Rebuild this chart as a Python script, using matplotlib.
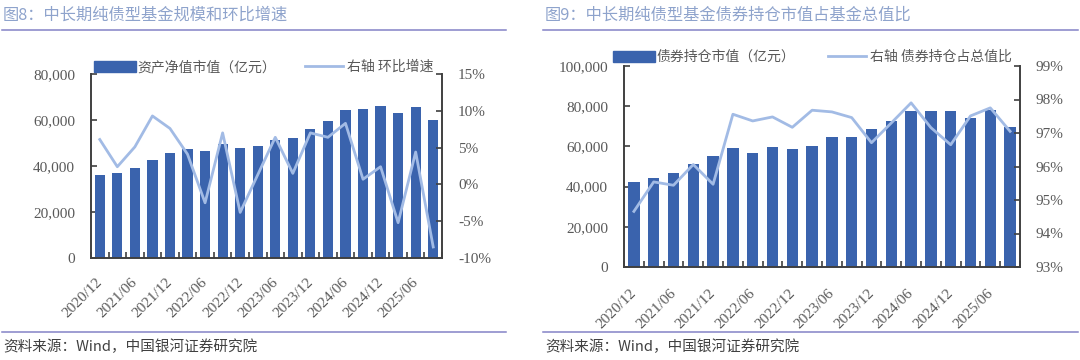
import matplotlib
matplotlib.use("Agg")
import matplotlib.pyplot as plt
from matplotlib.ticker import FuncFormatter, MultipleLocator, FixedLocator
from matplotlib.patches import Patch
from matplotlib.lines import Line2D
from matplotlib.transforms import ScaledTranslation

plt.rcParams['font.family'] = ['Noto Sans CJK SC', 'DejaVu Sans']

# ---------------- data ----------------
dates = ['2020/12', '2021/03', '2021/06', '2021/09', '2021/12', '2022/03', '2022/06',
         '2022/09', '2022/12', '2023/03', '2023/06', '2023/09', '2023/12', '2024/03',
         '2024/06', '2024/09', '2024/12', '2025/03', '2025/06', '2025/09']
nav = [36200, 37000, 39000, 42600, 45650, 47500, 46400, 49600, 47800, 48550,
       51500, 52300, 56100, 59600, 64350, 64800, 66250, 63050, 65650, 60150]
qoq = [6.1, 2.4, 5.1, 9.3, 7.6, 4.1, -2.5, 7.0, -3.8, 1.3,
       6.4, 1.5, 7.0, 6.4, 8.3, 0.7, 2.4, -5.2, 4.4, -8.5]
bond = [42300, 44300, 46800, 51400, 55200, 59000, 56900, 59700, 58700, 60400,
        64700, 64700, 68800, 72500, 77600, 77600, 77600, 74300, 78300, 69500]
ratio = [94.66, 95.54, 95.44, 96.06, 95.47, 97.56, 97.36, 97.48, 97.17, 97.68,
         97.63, 97.46, 96.71, 97.30, 97.90, 97.16, 96.65, 97.51, 97.75, 97.05]

title1 = '图8：中长期纯债型基金规模和环比增速'
title2 = '图9：中长期纯债型基金债券持仓市值占基金总值比'
legend1 = ['资产净值市值（亿元）', '右轴 环比增速']
legend2 = ['债券持仓市值（亿元）', '右轴 债券持仓占总值比']
source = '资料来源：Wind，中国银河证券研究院'

# ---------------- style ----------------
W, H = 1080, 360
BAR = '#3a63ad'
LINE = '#a2bbe5'
SPINE = '#404040'
TXT = '#595959'
TITLE = '#8ea3cc'
RULE = '#8482c6'
SERIF = 'Liberation Serif'

fig = plt.figure(figsize=(W / 100, H / 100), dpi=100)


def px_axes(x0, y0, x1, y1):
    return fig.add_axes([x0 / W, 1 - y1 / H, (x1 - x0) / W, (y1 - y0) / H])


def style_axes(ax, ax2, xpad):
    for a in (ax, ax2):
        for s in a.spines.values():
            s.set_visible(False)
    ax.spines['left'].set_visible(True)
    ax.spines['bottom'].set_visible(True)
    ax2.spines['right'].set_visible(True)
    for s in (ax.spines['left'], ax.spines['bottom'], ax2.spines['right']):
        s.set_color(SPINE)
        s.set_linewidth(1.4)
    for a in (ax, ax2):
        a.tick_params(axis='y', direction='in', length=4, width=1.2, color=SPINE,
                      labelsize=11, labelcolor=TXT, pad=11.5)
    for lab in ax.get_yticklabels() + ax2.get_yticklabels():
        lab.set_fontfamily(SERIF)
    n = len(dates)
    ax.set_xlim(-0.5, n - 0.5)
    ax.xaxis.set_major_locator(FixedLocator(list(range(0, n, 2))))
    ax.set_xticklabels(dates[::2], rotation=45, ha='right', va='top',
                       rotation_mode='anchor', fontfamily=SERIF, fontsize=11, color=TXT)
    ax.tick_params(axis='x', which='major', length=0, pad=xpad)
    shift = ScaledTranslation(-4 / 100, 0, fig.dpi_scale_trans)
    for lab in ax.get_xticklabels():
        lab.set_transform(lab.get_transform() + shift)
    ax.xaxis.set_minor_locator(FixedLocator([i - 0.5 for i in range(n + 1)]))
    ax.tick_params(axis='x', which='minor', direction='in', length=4, width=1.2, color=SPINE)


def add_legends(ax, handles, labels, pos1, pos2):
    l1 = ax.legend([handles[0]], [labels[0]], loc='center left',
                   bbox_to_anchor=(pos1[0] / W, 1 - pos1[1] / H), bbox_transform=fig.transFigure,
                   frameon=False, borderpad=0, borderaxespad=0, handlelength=3.0,
                   handleheight=0.85, handletextpad=0.15, prop={'size': 10})
    ax.add_artist(l1)
    l2 = ax.legend([handles[1]], [labels[1]], loc='center left',
                   bbox_to_anchor=(pos2[0] / W, 1 - pos2[1] / H), bbox_transform=fig.transFigure,
                   frameon=False, borderpad=0, borderaxespad=0, handlelength=2.7,
                   handletextpad=0.3, prop={'size': 10})
    for l in (l1, l2):
        for t in l.get_texts():
            t.set_color(TXT)


x = list(range(len(dates)))

# ---------------- left chart ----------------
ax1 = px_axes(91, 74, 442, 258)
ax1b = ax1.twinx()
ax1.bar(x, nav, width=0.58, color=BAR, zorder=2)
ax1b.plot(x, qoq, color=LINE, lw=2.0, zorder=3)
ax1.set_ylim(0, 80000)
ax1.yaxis.set_major_locator(MultipleLocator(20000))
ax1.yaxis.set_major_formatter(FuncFormatter(lambda v, p: f'{int(v):,}'))
ax1b.set_ylim(-10, 15)
ax1b.yaxis.set_major_locator(MultipleLocator(5))
ax1b.yaxis.set_major_formatter(FuncFormatter(lambda v, p: f'{int(round(v))}%'))
style_axes(ax1, ax1b, 13)
add_legends(ax1b, [Patch(color=BAR), Line2D([], [], color=LINE, lw=2)], legend1,
            (94, 67), (305, 67))

# ---------------- right chart ----------------
ax2 = px_axes(624, 66, 1020, 267)
ax2b = ax2.twinx()
ax2.bar(x, bond, width=0.57, color=BAR, zorder=2)
ax2b.plot(x, ratio, color=LINE, lw=2.0, zorder=3)
ax2.set_ylim(0, 100000)
ax2.yaxis.set_major_locator(MultipleLocator(20000))
ax2.yaxis.set_major_formatter(FuncFormatter(lambda v, p: f'{int(v):,}'))
ax2b.set_ylim(93, 99)
ax2b.yaxis.set_major_locator(MultipleLocator(1))
ax2b.yaxis.set_major_formatter(FuncFormatter(lambda v, p: f'{int(round(v))}%'))
style_axes(ax2, ax2b, 14)
add_legends(ax2b, [Patch(color=BAR), Line2D([], [], color=LINE, lw=2)], legend2,
            (613, 57), (828, 57))

# ---------------- titles / rules / source ----------------
fig.text(3 / W, 1 - 15 / H, title1, fontsize=11.7, color=TITLE, va='center', ha='left')
fig.text(545 / W, 1 - 15 / H, title2, fontsize=11.7, color=TITLE, va='center', ha='left')
for (a, b) in [(2, 506), (543, 1078)]:
    fig.add_artist(Line2D([a / W, b / W], [1 - 29.5 / H] * 2, color=RULE, lw=1.1))
    fig.add_artist(Line2D([a / W, b / W], [1 - 331.5 / H] * 2, color=RULE, lw=1.1))
fig.text(3 / W, 1 - 347 / H, source, fontsize=10.5, color='#404040', va='center', ha='left',
         style='italic')
fig.text(545 / W, 1 - 347 / H, source, fontsize=10.5, color='#404040', va='center', ha='left',
         style='italic')

fig.savefig('out.png', dpi=100)
